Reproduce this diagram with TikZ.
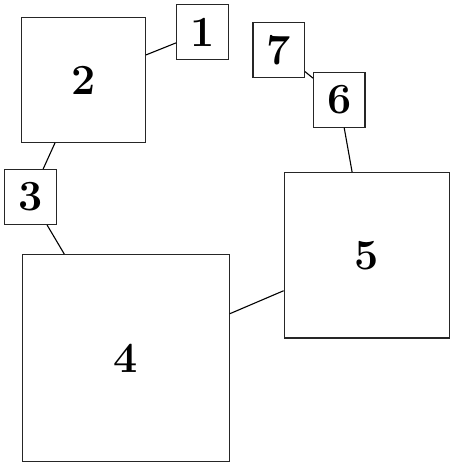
\documentclass[tikz,border=0pt]{standalone}
\begin{document}
\begin{tikzpicture}[x=1pt,y=1pt,
  box/.style={draw=black!85, line width=1.1pt, inner sep=0pt, fill=white,
    font=\fontsize{43}{50}\selectfont\bfseries},
  small/.style={box, minimum width=51.5pt, minimum height=55pt},
  link/.style={draw=black, line width=1.1pt}]
\useasboundingbox (0,0) rectangle (455,468);
\node[small] (n1) at (202.5,435.7) {1};
\node[box, minimum width=124pt, minimum height=124.5pt] (n2) at (83.4,388) {2};
\node[small] (n3) at (30.5,271) {3};
\node[box, minimum width=207pt, minimum height=207pt] (n4) at (125.7,109.8) {4};
\node[box, minimum width=165.5pt, minimum height=165.5pt] (n5) at (366.9,212.7) {5};
\node[small] (n6) at (339.2,368.3) {6};
\node[small] (n7) at (278.7,418) {7};
\draw[link] (n2) -- (n1);
\draw[link] (n2) -- (n3);
\draw[link] (n3) -- (n4);
\draw[link] (n4) -- (n5);
\draw[link] (n5) -- (n6);
\draw[link] (n6) -- (n7);
\end{tikzpicture}
\end{document}
